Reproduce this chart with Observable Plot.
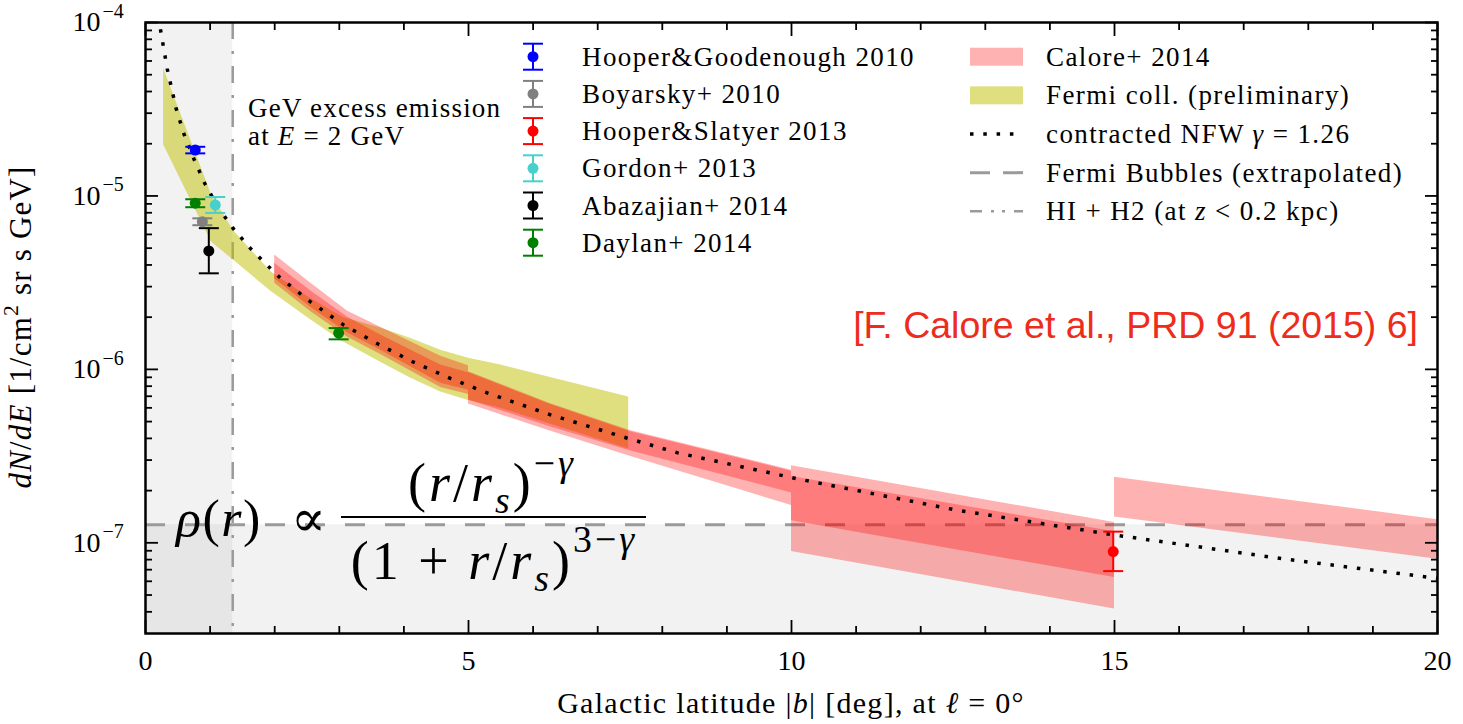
<!DOCTYPE html>
<html lang="en">
<head>
<meta charset="utf-8">
<title>GeV excess latitude profile</title>
<script src="https://cdn.jsdelivr.net/npm/d3@7"></script>
<script src="https://cdn.jsdelivr.net/npm/@observablehq/plot@0.6"></script>
<style>
  html, body { margin: 0; padding: 0; background: #fff; }
  #chart svg { display: block; }
</style>
</head>
<body>
<div id="chart"></div>
<script>
// ---------- scales & ticks ----------
const latDomain = [0, 20];
const fluxDomain = [3e-8, 1e-4];
const xMajorTicks = [0, 5, 10, 15, 20];
const xMinorTicks = [1, 2, 3, 4, 6, 7, 8, 9, 11, 12, 13, 14, 16, 17, 18, 19];
const yMajorTicks = [1e-7, 1e-6, 1e-5, 1e-4];
const yMajorExponents = ["−7", "−6", "−5", "−4"];
const yMinorTicks = [4e-8, 5e-8, 6e-8, 7e-8, 8e-8, 9e-8,
  2e-7, 3e-7, 4e-7, 5e-7, 6e-7, 7e-7, 8e-7, 9e-7,
  2e-6, 3e-6, 4e-6, 5e-6, 6e-6, 7e-6, 8e-6, 9e-6,
  2e-5, 3e-5, 4e-5, 5e-5, 6e-5, 7e-5, 8e-5, 9e-5];

// ---------- background levels ----------
const bubblesFlux = 1.27e-7;   // Fermi Bubbles (extrapolated)
const gasLat = 1.35;           // HI + H2 (at z < 0.2 kpc)

// ---------- contracted NFW, gamma = 1.26 ----------
const nfwLat  = [0.2, 0.232, 0.336, 0.475, 0.593, 0.748, 0.918, 1.119, 1.358, 1.625, 1.909, 2.064, 2.55, 3.06, 3.6, 4.15, 4.72, 5.3, 6.27, 7.46, 8.24, 10.09, 12.53, 15.0, 17.65, 20.0];
const nfwFlux = [1.09e-4, 9.10e-5, 5.41e-5, 3.18e-5, 2.29e-5, 1.64e-5, 1.18e-5, 8.63e-6, 6.49e-6, 4.98e-6, 3.90e-6, 3.43e-6, 2.46e-6, 1.81e-6, 1.40e-6, 1.10e-6, 8.87e-7, 7.29e-7, 5.47e-7, 4.01e-7, 3.30e-7, 2.34e-7, 1.55e-7, 1.11e-7, 8.05e-8, 6.24e-8];

// ---------- Fermi coll. (preliminary) band ----------
const fermiLat  = [0.28, 1.02, 1.36, 1.95, 2.55, 3.05, 3.64, 4.1, 4.57, 5.0, 5.5, 6.3, 7.48];
const fermiHigh = [5.43e-5, 1.02e-5, 6.31e-6, 3.63e-6, 2.57e-6, 2.00e-6, 1.73e-6, 1.51e-6, 1.29e-6, 1.16e-6, 1.06e-6, 8.91e-7, 6.93e-7];
const fermiLow  = [1.97e-5, 5.43e-6, 4.27e-6, 2.80e-6, 1.94e-6, 1.45e-6, 1.10e-6, 8.91e-7, 7.41e-7, 6.61e-7, 5.96e-7, 4.79e-7, 3.47e-7];

// ---------- Calore+ 2014: two overlapping bands per latitude bin ----------
const caloreLat1   = [2.0, 2.55, 3.13, 3.64, 4.57, 5.0];
const caloreHighA1 = [4.57e-6, 3.16e-6, 2.16e-6, 1.75e-6, 1.19e-6, 1.05e-6];
const caloreLowA1  = [3.33e-6, 2.29e-6, 1.62e-6, 1.29e-6, 8.32e-7, 7.59e-7];
const caloreHighB1 = [4.09e-6, 2.85e-6, 2.00e-6, 1.58e-6, 1.06e-6, 9.55e-7];
const caloreLowB1  = [3.14e-6, 2.16e-6, 1.53e-6, 1.22e-6, 7.85e-7, 7.16e-7];

const caloreLat2   = [5.0, 6.25, 7.5, 9.52, 10.0];
const caloreHighA2 = [9.70e-7, 6.38e-7, 4.44e-7, 2.90e-7, 2.62e-7];
const caloreLowA2  = [6.67e-7, 4.68e-7, 3.40e-7, 2.16e-7, 1.94e-7];
const caloreHighB2 = [9.59e-7, 6.31e-7, 4.39e-7, 2.87e-7, 2.59e-7];
const caloreLowB2  = [6.32e-7, 4.42e-7, 3.16e-7, 1.86e-7, 1.64e-7];

const caloreLat3   = [10.0, 15.0];
const caloreHighA3 = [2.78e-7, 1.31e-7];
const caloreLowA3  = [1.34e-7, 6.30e-8];
const caloreHighB3 = [2.41e-7, 1.16e-7];
const caloreLowB3  = [8.90e-8, 4.15e-8];

const caloreLat4   = [15.0, 20.0];
const caloreHigh4  = [2.39e-7, 1.36e-7];
const caloreLow4   = [1.41e-7, 8.05e-8];

// ---------- published measurements ----------
const refNames  = ["Hooper&Goodenough 2010", "Boyarsky+ 2010", "Hooper&Slatyer 2013", "Gordon+ 2013", "Abazajian+ 2014", "Daylan+ 2014"];
const refColors = ["#0000ff", "#808080", "#ff0000", "#48d1cc", "#000000", "#008000"];
const pointRef  = [0, 5, 3, 1, 4, 5, 2];
const pointLat  = [0.77, 0.77, 1.08, 0.88, 0.98, 2.99, 14.98];
const pointFlux = [1.84e-5, 9.08e-6, 8.87e-6, 7.10e-6, 4.82e-6, 1.62e-6, 8.9e-8];
const pointLow  = [1.76e-5, 8.61e-6, 7.98e-6, 6.78e-6, 3.58e-6, 1.49e-6, 6.87e-8];
const pointHigh = [1.92e-5, 9.57e-6, 9.86e-6, 7.43e-6, 6.52e-6, 1.73e-6, 1.16e-7];
const pointColor = pointRef.map((r) => refColors[r]);

// ---------- styling ----------
const SERIF = "'Liberation Serif', 'DejaVu Serif', serif";
const SANS = "'Liberation Sans', Arial, sans-serif";
const yellow = "#bfbf00";
const bubbleStroke = "#9a9a9a";
const nfwDash = "3.5,9.8";
const capSymbol = {draw(ctx) { ctx.moveTo(-10, 0); ctx.lineTo(10, 0); }};

const redBand = (lat, lo, hi) =>
  Plot.areaY(lat, {x: lat, y1: lo, y2: hi, fill: "#ff0000", fillOpacity: 0.3});

const tickOpts = {stroke: "black", strokeWidth: 1.8, tickFormat: () => "", label: null};

const chart = Plot.plot({
  width: 1463,
  height: 724,
  marginLeft: 145,
  marginRight: 26,
  marginTop: 22,
  marginBottom: 91,
  style: {background: "#fff", overflow: "visible"},
  color: {type: "identity"},
  x: {domain: latDomain},
  y: {type: "log", domain: fluxDomain},
  marks: [
    // masked regions
    Plot.rect([0], {x1: latDomain[0], x2: gasLat, y1: fluxDomain[0], y2: fluxDomain[1], fill: "#808080", fillOpacity: 0.1}),
    Plot.rect([0], {x1: latDomain[0], x2: latDomain[1], y1: fluxDomain[0], y2: bubblesFlux, fill: "#808080", fillOpacity: 0.1}),
    Plot.ruleY([bubblesFlux], {stroke: bubbleStroke, strokeWidth: 3, strokeDasharray: "20,20", strokeLinecap: "butt"}),
    Plot.ruleX([gasLat], {stroke: bubbleStroke, strokeWidth: 2.5, strokeDasharray: "17,12,3,12", strokeLinecap: "butt"}),

    // bands
    Plot.areaY(fermiLat, {x: fermiLat, y1: fermiLow, y2: fermiHigh, fill: yellow, fillOpacity: 0.5}),
    redBand(caloreLat1, caloreLowA1, caloreHighA1),
    redBand(caloreLat1, caloreLowB1, caloreHighB1),
    redBand(caloreLat2, caloreLowA2, caloreHighA2),
    redBand(caloreLat2, caloreLowB2, caloreHighB2),
    redBand(caloreLat3, caloreLowA3, caloreHighA3),
    redBand(caloreLat3, caloreLowB3, caloreHighB3),
    redBand(caloreLat4, caloreLow4, caloreHigh4),

    // NFW profile
    Plot.line(nfwLat, {x: nfwLat, y: nfwFlux, stroke: "black", strokeWidth: 3.5, strokeDasharray: nfwDash,
      strokeLinecap: "butt", clip: true}),

    // measurements with error bars
    Plot.ruleX(pointLat, {x: pointLat, y1: pointLow, y2: pointHigh, stroke: pointColor, strokeWidth: 2}),
    Plot.dot(pointLat, {x: pointLat, y: pointLow, symbol: capSymbol, r: 5, fill: "none", stroke: pointColor, strokeWidth: 2}),
    Plot.dot(pointLat, {x: pointLat, y: pointHigh, symbol: capSymbol, r: 5, fill: "none", stroke: pointColor, strokeWidth: 2}),
    Plot.dot(pointLat, {x: pointLat, y: pointFlux, r: 5.5, fill: pointColor, stroke: "none"}),

    // inward ticks on all four sides
    Plot.axisX(xMajorTicks, {...tickOpts, anchor: "bottom", tickSize: -13}),
    Plot.axisX(xMinorTicks, {...tickOpts, anchor: "bottom", tickSize: -7}),
    Plot.axisX(xMajorTicks, {...tickOpts, anchor: "top", tickSize: -13}),
    Plot.axisX(xMinorTicks, {...tickOpts, anchor: "top", tickSize: -7}),
    Plot.axisY(yMajorTicks, {...tickOpts, anchor: "left", tickSize: -13}),
    Plot.axisY(yMinorTicks, {...tickOpts, anchor: "left", tickSize: -7}),
    Plot.axisY(yMajorTicks, {...tickOpts, anchor: "right", tickSize: -13}),
    Plot.axisY(yMinorTicks, {...tickOpts, anchor: "right", tickSize: -7}),

    // tick labels
    Plot.text(xMajorTicks, {x: (d) => d, frameAnchor: "bottom", dy: 28, text: (d) => String(d),
      lineAnchor: "middle", fontSize: 28, fontFamily: SERIF, fill: "black"}),
    Plot.text(yMajorTicks, {y: (d) => d, frameAnchor: "left", dx: -45, text: () => "10",
      textAnchor: "end", lineAnchor: "middle", fontSize: 28, fontFamily: SERIF, fill: "black"}),
    Plot.text(yMajorTicks, {y: (d) => d, frameAnchor: "left", dx: -43, dy: -11, text: (d, i) => yMajorExponents[i],
      textAnchor: "start", lineAnchor: "middle", fontSize: 20, fontFamily: SERIF, fill: "black"}),

    Plot.frame({stroke: "black", strokeWidth: 2.5})
  ]
});

document.getElementById("chart").append(chart);

// ---------- rich text helpers ----------
const svg = d3.select(chart);
const overlay = svg.append("g").attr("class", "annotations");

function rich(g, x, y, parts, {size = 27, anchor = "start", family = SERIF, fill = "#000", rotate = 0, spacing = 0} = {}) {
  const t = g.append("text")
    .attr("x", x).attr("y", y)
    .attr("font-family", family)
    .attr("font-size", size)
    .attr("text-anchor", anchor)
    .attr("fill", fill);
  if (spacing) t.attr("letter-spacing", spacing);
  if (rotate) t.attr("transform", `rotate(${rotate},${x},${y})`);
  let shift = 0;
  for (const p of parts) {
    const [s, o] = typeof p === "string" ? [p, {}] : p;
    const ts = t.append("tspan").text(s);
    const target = o.sup ? -size * (o.raise ?? 0.42) : o.sub ? size * 0.22 : 0;
    if (target !== shift) { ts.attr("dy", target - shift); shift = target; }
    if (o.sup || o.sub) ts.attr("font-size", size * (o.scale ?? 0.7));
    if (o.italic) ts.attr("font-style", "italic");
  }
  return t;
}
const it = (s) => [s, {italic: true}];
const sup = (s, extra = {}) => [s, {sup: true, ...extra}];
const sub = (s, extra = {}) => [s, {sub: true, ...extra}];

// axis titles
rich(overlay, 791, 713, ["Galactic latitude |", it("b"), "| [deg], at ", it("ℓ"), " = 0°"], {size: 30, anchor: "middle", spacing: 1.3});
rich(overlay, 31, 327, [it("dN"), "/", it("dE"), " [1/cm", sup("2"), " sr s GeV]"], {size: 31, anchor: "middle", rotate: -90, spacing: 1.2});

// shaded region note
rich(overlay, 248, 117, ["GeV excess emission"], {spacing: 1.2});
rich(overlay, 248, 145, ["at ", it("E"), " = 2 GeV"], {spacing: 1.2});

// citation
overlay.append("text")
  .attr("x", 1418).attr("y", 338)
  .attr("text-anchor", "end")
  .attr("font-family", SANS)
  .attr("font-size", 37.5)
  .attr("fill", "#ee2c1c")
  .text("[F. Calore et al., PRD 91 (2015) 6]");

// density profile formula
rich(overlay, 176, 536, [it("ρ"), "(", it("r"), ")  ∝"], {size: 52, spacing: 1.5});
rich(overlay, 492, 501, ["(", it("r"), "/", it("r"), sub("s", {italic: true}), ")",
  sup("−", {raise: 0.47}), ["γ", {sup: true, raise: 0.47, italic: true}]], {size: 54, anchor: "middle", spacing: 3});
overlay.append("line").attr("x1", 341).attr("x2", 646).attr("y1", 517).attr("y2", 517)
  .attr("stroke", "black").attr("stroke-width", 2);
rich(overlay, 494, 579, ["(1 + ", it("r"), "/", it("r"), sub("s", {italic: true}), ")",
  sup("3−", {raise: 0.5}), ["γ", {sup: true, raise: 0.5, italic: true}]], {size: 54, anchor: "middle", spacing: 3});

// ---------- legend ----------
const legend = svg.append("g").attr("class", "legend");
refNames.forEach((name, i) => {
  const cy = 56.7 + i * 37.2, cx = 533, c = refColors[i];
  legend.append("line").attr("x1", cx).attr("x2", cx).attr("y1", cy - 13).attr("y2", cy + 13).attr("stroke", c).attr("stroke-width", 2);
  for (const dy of [-13, 13]) {
    legend.append("line").attr("x1", cx - 10).attr("x2", cx + 10).attr("y1", cy + dy).attr("y2", cy + dy).attr("stroke", c).attr("stroke-width", 2);
  }
  legend.append("circle").attr("cx", cx).attr("cy", cy).attr("r", 5.5).attr("fill", c);
  rich(legend, 582, cy + 9, [name], {spacing: 1.4});
});

const rightRows = [
  {kind: "patch", fill: "#ff0000", opacity: 0.3, label: ["Calore+ 2014"]},
  {kind: "patch", fill: yellow, opacity: 0.5, label: ["Fermi coll. (preliminary)"]},
  {kind: "line", stroke: "black", width: 3.5, dash: nfwDash, label: ["contracted NFW ", it("γ"), " = 1.26"]},
  {kind: "line", stroke: bubbleStroke, width: 3, dash: "20,13", label: ["Fermi Bubbles (extrapolated)"]},
  {kind: "line", stroke: bubbleStroke, width: 2.5, dash: "12,9,3,8,3,9", label: ["HI + H2 (at ", it("z"), " < 0.2 kpc)"]}
];
rightRows.forEach((row, i) => {
  const cy = 56.7 + i * 38.65;
  if (row.kind === "patch") {
    legend.append("rect").attr("x", 970).attr("y", cy - 9).attr("width", 53).attr("height", 18)
      .attr("fill", row.fill).attr("fill-opacity", row.opacity);
  } else {
    legend.append("line").attr("x1", 970).attr("x2", 1023).attr("y1", cy).attr("y2", cy)
      .attr("stroke", row.stroke).attr("stroke-width", row.width).attr("stroke-dasharray", row.dash);
  }
  rich(legend, 1046, cy + 9, row.label, {spacing: 1.4});
});
</script>
</body>
</html>
